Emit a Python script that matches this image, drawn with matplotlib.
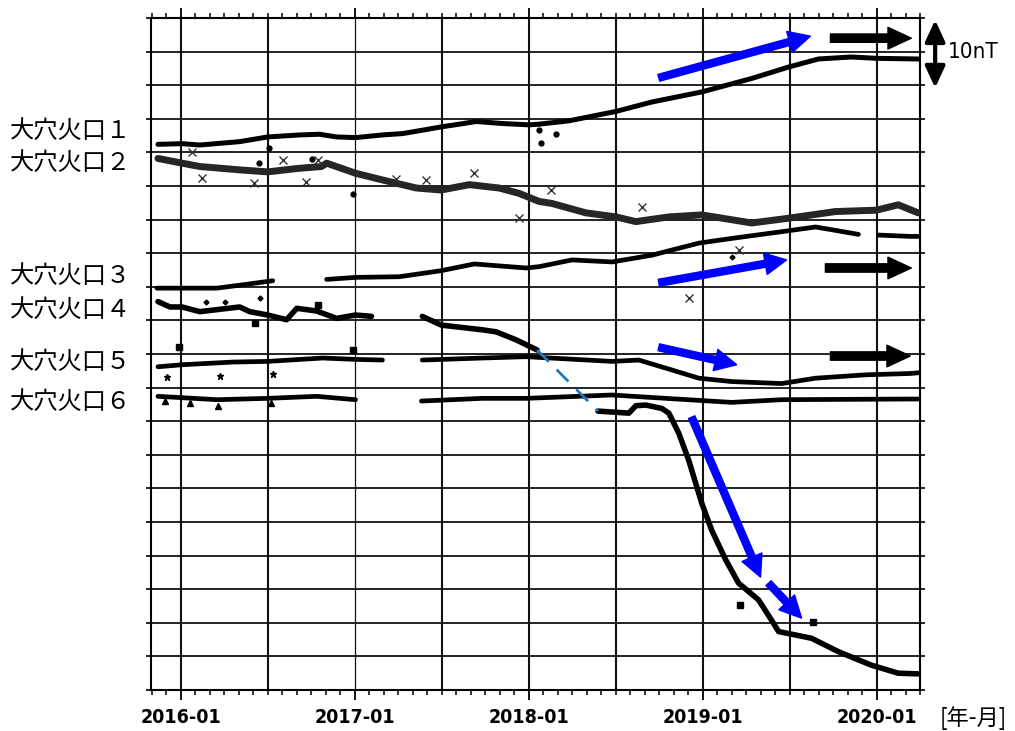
"""
Total magnetic force at the six Oana crater stations, stacked.
"""
import numpy as np
import matplotlib
matplotlib.use('Agg')
import matplotlib.pyplot as plt

nan = np.nan

# time in decimal years, value in nT (relative, stacked offsets)
s1_t = [2015.868, 2016.006, 2016.109, 2016.338, 2016.499, 2016.683, 2016.797, 2016.895,
        2017.004, 2017.159, 2017.274, 2017.411, 2017.497, 2017.601, 2017.698, 2017.847,
        2018.002, 2018.060, 2018.232, 2018.502, 2018.708, 2018.995, 2019.282, 2019.494,
        2019.666, 2019.855, 2019.999, 2020.240]
s1_v = [81.2, 81.3, 81.1, 81.6, 82.3, 82.6, 82.7, 82.3,
        82.2, 82.6, 82.8, 83.4, 83.8, 84.2, 84.6, 84.3,
        84.1, 84.2, 84.7, 86.1, 87.5, 89.0, 91.0, 92.7,
        93.9, 94.2, 94.0, 93.9]

s2_t = [2015.868, 2016.006, 2016.109, 2016.338, 2016.499, 2016.666, 2016.809, 2016.838,
        2017.004, 2017.159, 2017.354, 2017.497, 2017.658, 2017.830, 2017.945, 2018.060,
        2018.134, 2018.329, 2018.502, 2018.616, 2018.806, 2018.995, 2019.282, 2019.494,
        2019.764, 2019.999, 2020.125, 2020.240]
s2_v = [79.1, 78.4, 77.9, 77.4, 77.1, 77.6, 77.9, 78.4,
        76.9, 75.9, 74.7, 74.4, 75.2, 74.7, 73.9, 72.7,
        72.4, 71.0, 70.4, 69.7, 70.4, 70.7, 69.5, 70.2,
        71.2, 71.4, 72.2, 71.0]

s3_t = [2015.862, 2016.006, 2016.207, 2016.356, 2016.528, nan,
        2016.838, 2017.004, 2017.256, 2017.497, 2017.687, 2017.985, 2018.060, 2018.249,
        2018.479, 2018.708, 2018.978, 2019.167, 2019.454, 2019.649, 2019.741, 2019.896, nan,
        2020.010, 2020.194, 2020.240]
s3_v = [59.8, 59.8, 59.8, 60.3, 60.9, nan,
        61.1, 61.4, 61.5, 62.4, 63.4, 62.8, 63.0, 64.0,
        63.7, 64.7, 66.5, 67.2, 68.2, 68.9, 68.5, 67.8, nan,
        67.7, 67.5, 67.5]

s4_t = [2015.868, 2015.937, 2016.006, 2016.109, 2016.207, 2016.338, 2016.396, 2016.499,
        2016.608, 2016.666, 2016.780, 2016.895, 2017.004, 2017.096, nan,
        2017.388, 2017.497, 2017.733, 2017.813, 2017.928, 2018.048, nan,
        2018.398, 2018.576, 2018.616, 2018.674, 2018.765, 2018.806, 2018.863, 2018.920,
        2018.995, 2019.052, 2019.132, 2019.207, 2019.322, 2019.396, 2019.437, 2019.626,
        2019.781, 2019.970, 2020.125, 2020.240]
s4_v = [57.8, 57.0, 57.0, 56.3, 56.6, 57.0, 56.3, 55.8,
        55.1, 56.8, 56.4, 55.3, 55.8, 55.6, nan,
        55.6, 54.3, 53.6, 53.3, 52.1, 50.6, nan,
        41.5, 41.2, 42.3, 42.4, 41.9, 41.2, 38.2, 34.2,
        27.8, 23.8, 19.4, 15.9, 13.4, 10.4, 8.7, 7.7,
        5.7, 3.7, 2.5, 2.4]

s5_t = [2015.868, 2016.006, 2016.298, 2016.499, 2016.815, 2017.004, 2017.159, nan,
        2017.388, 2017.733, 2017.985, 2018.479, 2018.633, 2018.788, 2018.978, 2019.167,
        2019.454, 2019.649, 2019.936, 2020.194, 2020.240]
s5_v = [48.1, 48.4, 48.8, 48.9, 49.4, 49.2, 49.1, nan,
        49.1, 49.4, 49.6, 48.9, 49.1, 47.9, 46.4, 45.9,
        45.6, 46.4, 46.9, 47.1, 47.2]

s6_t = [2015.868, 2016.006, 2016.207, 2016.499, 2016.780, 2017.004, nan,
        2017.383, 2017.733, 2017.985, 2018.479, 2018.788, 2019.167, 2019.454, 2020.194, 2020.240]
s6_v = [43.7, 43.5, 43.2, 43.4, 43.7, 43.2, nan,
        43.0, 43.4, 43.4, 43.9, 43.4, 42.8, 43.2, 43.3, 43.3]

# station 4 gap bridged by a dashed line
gap_t = [2018.048, 2018.398]
gap_v = [50.6, 41.5]

# isolated outlying samples
o1_t = [2016.505, 2016.448, 2016.756, 2016.987, 2018.060, 2018.069, 2018.156]
o1_v = [80.6, 78.4, 79.0, 73.8, 83.4, 81.4, 82.7]
o2_t = [2016.119, 2016.419, 2016.721, 2016.585, 2016.786, 2016.061, 2017.238, 2017.410,
        2017.687, 2017.945, 2018.924, 2019.207, 2018.127, 2018.652]
o2_v = [76.2, 75.4, 75.6, 78.9, 78.9, 80.1, 76.1, 75.9,
        76.9, 70.3, 58.4, 65.5, 74.4, 71.9]
o3_t = [2016.147, 2016.252, 2016.453, 2019.167]
o3_v = [57.7, 57.7, 58.4, 64.4]
o4_t = [2015.990, 2016.989, 2016.786, 2016.425, 2019.217, 2019.637]
o4_v = [51.1, 50.6, 57.3, 54.6, 12.6, 10.1]
o5_t = [2015.918, 2016.224, 2016.530]
o5_v = [46.6, 46.8, 47.0]
o6_t = [2015.908, 2016.052, 2016.214, 2016.520]
o6_v = [43.0, 42.7, 42.3, 42.7]

station_labels = ['大穴火口１', '大穴火口２', '大穴火口３', '大穴火口４', '大穴火口５', '大穴火口６']
label_y = [131, 163, 276, 310, 362, 402]  # pixel rows of the labels

year_ticks = [2016, 2017, 2018, 2019, 2020]
year_labels = ['2016-01', '2017-01', '2018-01', '2019-01', '2020-01']

# trend arrows (tail, tip)
blue_arrows = [((2018.748, 91.1), (2019.620, 97.3)),
               ((2018.748, 60.6), (2019.483, 64.0)),
               ((2018.748, 51.0), (2019.196, 48.4)),
               ((2018.937, 40.6), (2019.333, 16.8)),
               ((2019.379, 15.9), (2019.569, 10.7))]
black_arrows = [((2019.735, 97.0), (2020.200, 97.0)),
                ((2019.706, 62.8), (2020.200, 62.8)),
                ((2019.735, 49.7), (2020.194, 49.7))]

narrow = ['DejaVu Sans']

fig = plt.figure(figsize=(10.15, 7.31), dpi=100)
ax = fig.add_axes([151 / 1015, 41 / 731, 769 / 1015, 672 / 731])

ax.set_xlim(2015.828, 2020.240)
ax.set_ylim(0, 100)

# grid
for yv in np.arange(5, 100, 5):
    ax.axhline(yv, color='#111111', lw=1.3, zorder=1)
for xv in np.arange(2016, 2020.01, 0.5):
    ax.axvline(xv, color='#111111', lw=0.9 if xv == 2017 else 1.5, zorder=1)

# series
ax.plot(s1_t, s1_v, color='black', lw=3.6, solid_capstyle='round', zorder=3)
ax.plot(s2_t, s2_v, color='#262626', lw=5.0, solid_capstyle='round', zorder=3)
ax.plot(s3_t, s3_v, color='black', lw=3.4, solid_capstyle='round', zorder=3)
ax.plot(s4_t, s4_v, color='black', lw=4.0, solid_capstyle='round', zorder=3)
ax.plot(s5_t, s5_v, color='black', lw=3.4, solid_capstyle='round', zorder=3)
ax.plot(s6_t, s6_v, color='black', lw=3.4, solid_capstyle='round', zorder=3)
ax.plot(gap_t, gap_v, color='#1f78c1', lw=2, dashes=(6, 4), zorder=3)

ax.plot(o1_t, o1_v, 'o', color='black', ms=3.5, zorder=3)
ax.plot(o2_t, o2_v, 'x', color='#333333', ms=6, mew=1, zorder=3)
ax.plot(o3_t, o3_v, 'D', color='black', ms=2.5, zorder=3)
ax.plot(o4_t, o4_v, 's', color='black', ms=4.5, zorder=3)
ax.plot(o5_t, o5_v, '*', color='black', ms=5, zorder=3)
ax.plot(o6_t, o6_v, '^', color='black', ms=4.5, zorder=3)

for tail, tip in blue_arrows:
    ax.annotate('', xy=tip, xytext=tail,
                arrowprops=dict(arrowstyle='simple,head_width=1.3,head_length=1.3,tail_width=0.42',
                                mutation_scale=12, color='#0000ff', shrinkA=0, shrinkB=0),
                zorder=4)
for tail, tip in black_arrows:
    ax.annotate('', xy=tip, xytext=tail,
                arrowprops=dict(arrowstyle='simple,head_width=1.3,head_length=1.4,tail_width=0.5',
                                mutation_scale=12, color='black', shrinkA=0, shrinkB=0),
                zorder=4)

# 10 nT scale bar
ax.annotate('', xy=(2020.337, 99.7), xytext=(2020.337, 89.6), annotation_clip=False,
            arrowprops=dict(arrowstyle='<|-|>,head_length=0.65,head_width=0.3',
                            mutation_scale=20, lw=3, color='black', shrinkA=0, shrinkB=0))
ax.text(2020.411, 94.9, '10nT', fontsize=16, va='center', ha='left',
        family=narrow, fontstretch='condensed')

# axes and ticks
for sp in ax.spines.values():
    sp.set_linewidth(1.5)
ax.set_xticks(year_ticks)
ax.set_xticklabels(year_labels, fontsize=14, fontweight='bold',
                   family=narrow, fontstretch='condensed')
ax.set_xticks(np.arange(2015 + 10 / 12, 2020.25, 1 / 12), minor=True)
ax.set_yticks(np.arange(0, 100.1, 5))
ax.set_yticklabels([])
ax.tick_params(axis='x', which='major', direction='out', length=7, width=1.3,
               top=True, pad=6)
ax.tick_params(axis='x', which='minor', direction='out', length=3.5, width=1.1, top=True)
ax.tick_params(axis='y', direction='out', length=3.5, width=1.2, right=True)

fig.text(940 / 1015, 1 - 718 / 731, '[年-月]', fontsize=16, va='center', ha='left',
         family=['Noto Sans CJK JP', 'DejaVu Sans'])

for name, py in zip(station_labels, label_y):
    fig.text(10 / 1015, 1 - py / 731, name, fontsize=17.5, va='center', ha='left',
             family=['Noto Sans CJK JP', 'DejaVu Sans'])

fig.savefig('out.png', dpi=100)
